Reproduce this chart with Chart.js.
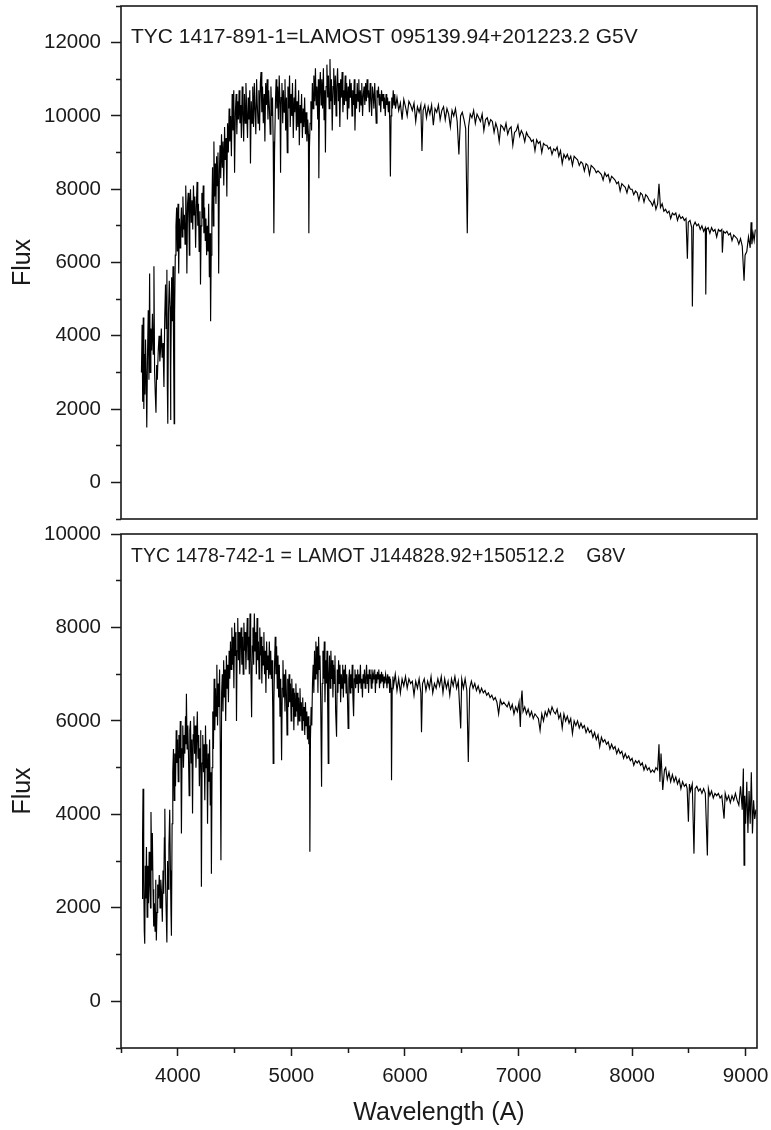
<!doctype html>
<html lang="en">
<head>
<meta charset="utf-8">
<title>LAMOST spectra</title>
<style>
  html,body{margin:0;padding:0;background:#fff;width:771px;height:1130px;overflow:hidden;}
  .panel{position:absolute;left:0;width:771px;}
  #p0{top:0;height:525px;}
  #p1{top:500px;height:630px;}
</style>
</head>
<body>
<div class="panel" id="p0"><canvas id="chart0" width="771" height="525"></canvas></div>
<div class="panel" id="p1"><canvas id="chart1" width="771" height="630"></canvas></div>

<script src="https://cdn.jsdelivr.net/npm/chart.js@4.4.1/dist/chart.umd.min.js"></script>
<script>
// spectrum 1 : TYC 1417-891-1 (G5V)
var waveTop = [
  3680,3686,3691,3696,3701,3706,3711,3716,3722,3727,
  3733,3740,3746,3752,3757,3763,3770,3777,3784,3790,
  3796,3802,3808,3814,3820,3828,3835,3842,3848,3855,
  3862,3870,3878,3885,3892,3898,3904,3908,3912,3918,
  3925,3932,3936,3940,3946,3952,3958,3964,3968,3972,
  3978,3984,3990,3996,4002,4008,4014,4020,4026,4032,
  4038,4045,4052,4058,4064,4070,4076,4080,4086,4092,
  4098,4102,4106,4112,4118,4125,4132,4138,4144,4150,
  4157,4163,4170,4176,4182,4188,4195,4200,4206,4212,
  4218,4224,4230,4236,4242,4248,4254,4260,4266,4272,
  4278,4284,4289,4294,4300,4306,4312,4318,4324,4330,
  4336,4342,4348,4354,4360,4366,4372,4378,4385,4392,
  4398,4405,4412,4418,4425,4432,4438,4445,4452,4458,
  4465,4472,4479,4486,4493,4500,4507,4514,4520,4527,
  4534,4540,4547,4554,4560,4567,4574,4580,4587,4594,
  4600,4607,4614,4620,4627,4634,4640,4647,4654,4660,
  4667,4674,4680,4687,4694,4700,4707,4714,4720,4727,
  4733,4740,4746,4753,4760,4767,4774,4780,4787,4794,
  4800,4807,4814,4820,4827,4834,4840,4846,4852,4860,
  4866,4872,4879,4886,4893,4900,4905,4910,4917,4924,
  4930,4937,4944,4950,4957,4964,4970,4977,4984,4990,
  4997,5004,5010,5017,5024,5030,5037,5044,5050,5057,
  5064,5070,5077,5084,5090,5097,5104,5110,5117,5124,
  5130,5137,5144,5150,5154,5159,5165,5172,5178,5185,
  5192,5198,5205,5212,5218,5225,5232,5238,5242,5248,
  5255,5262,5268,5275,5282,5288,5295,5300,5306,5313,
  5320,5326,5333,5340,5346,5353,5360,5367,5373,5380,
  5387,5394,5400,5407,5414,5420,5427,5434,5440,5447,
  5454,5460,5467,5474,5480,5487,5494,5500,5507,5514,
  5520,5527,5534,5540,5547,5554,5560,5567,5574,5580,
  5587,5594,5600,5607,5614,5620,5627,5634,5640,5647,
  5654,5660,5667,5674,5680,5687,5694,5700,5707,5714,
  5720,5727,5734,5740,5747,5754,5760,5767,5774,5780,
  5787,5794,5800,5807,5814,5820,5827,5834,5840,5847,
  5854,5860,5866,5872,5878,5884,5890,5897,5904,5910,
  5917,5930,5945,5960,5975,5990,6005,6020,6035,6050,
  6065,6080,6095,6110,6125,6140,6150,6160,6175,6190,
  6205,6220,6235,6250,6265,6280,6295,6310,6325,6340,
  6355,6370,6385,6400,6415,6430,6445,6460,6475,6490,
  6505,6520,6535,6549,6560,6575,6590,6605,6620,6635,
  6650,6665,6680,6695,6710,6725,6740,6755,6770,6785,
  6800,6815,6830,6845,6860,6875,6890,6905,6920,6935,
  6950,6965,6980,6995,7010,7025,7040,7055,7070,7085,
  7100,7115,7130,7145,7160,7175,7190,7205,7220,7235,
  7250,7265,7280,7295,7310,7325,7340,7355,7370,7385,
  7400,7415,7430,7445,7460,7475,7490,7505,7520,7535,
  7550,7565,7580,7595,7610,7625,7640,7655,7670,7685,
  7700,7715,7730,7745,7760,7775,7790,7805,7820,7835,
  7850,7865,7880,7895,7910,7925,7940,7955,7970,7985,
  8000,8015,8030,8045,8060,8075,8090,8105,8120,8135,
  8150,8165,8180,8195,8210,8225,8237,8250,8265,8280,
  8295,8310,8325,8340,8355,8370,8385,8400,8415,8430,
  8445,8460,8475,8487,8495,8510,8525,8531,8540,8555,
  8570,8585,8600,8615,8630,8645,8649,8655,8670,8685,
  8700,8715,8730,8745,8760,8775,8790,8795,8805,8820,
  8835,8850,8865,8880,8895,8910,8925,8940,8955,8970,
  8986,8995,9010,9025,9040,9048,9055,9065,9075,9085
];
var fluxTop = [
  3000,4300,2200,4500,2000,3500,2400,3900,2800,1500,
  3400,4700,2800,5700,3000,4200,3600,4600,3500,5900,
  3000,2400,1900,3200,2800,3600,4000,3300,3600,4200,
  3400,3800,2600,4500,5400,4200,5800,2600,1600,4600,
  5500,4800,1700,3000,5600,4400,5900,3200,1600,4600,
  6200,7000,7500,6300,7600,5700,7200,6400,7000,7500,
  6700,7800,6900,7300,6500,8100,7200,5700,7600,7900,
  7100,6200,7600,8000,7100,7700,6900,8100,7300,7800,
  6400,7500,8200,7000,7600,6300,7400,5400,7000,7900,
  7200,8100,6800,7500,6600,7200,6200,7000,6300,7600,
  5600,6800,4400,6200,7400,8600,7000,9300,7800,8700,
  7600,8900,8100,9000,5700,8400,9200,8300,9500,8600,
  9300,8100,9700,8800,9400,7800,9800,9000,10200,9300,
  10000,8900,10600,9600,10700,8450,10100,10600,9500,10400,
  9900,10700,9800,10300,9400,10800,10000,9300,10600,9800,
  10900,10100,9400,10500,9900,10700,8700,10400,9800,10800,
  9700,10900,10200,9500,11000,10300,9800,10700,9600,10900,
  11200,10100,10800,9800,10600,9300,10900,10300,11000,9900,
  10700,10200,9500,10800,10000,10500,9300,6800,9000,10400,
  11000,10200,10800,9900,11100,10300,8450,10500,10900,9800,
  10700,10100,11000,9600,10500,9000,10800,10200,11100,9700,
  10600,10000,10900,9400,10500,10100,11000,9600,10400,9700,
  10700,9200,10300,9800,10600,9400,10200,9700,10500,9500,
  10100,9300,9900,9500,6800,9100,9800,10400,9600,10900,
  10200,11100,10400,11300,10300,10800,9900,11000,8300,10500,
  11200,10300,11000,10200,11300,9900,10700,9000,10800,11400,
  10500,11100,10200,11550,10400,11000,9600,10800,11300,10300,
  11100,10000,10800,11300,10400,10900,9700,11000,10500,11200,
  10100,10700,10300,11100,10400,10900,9900,10800,10200,11000,
  10500,10900,10000,10700,10300,11000,9600,10600,10200,10900,
  10400,11000,10100,10700,10300,10900,10000,10600,10800,10300,
  10900,10400,11000,10500,10700,10100,10900,10500,10000,10800,
  10600,10200,10900,10400,9800,10700,10500,10800,10300,10600,
  10100,10700,10400,10600,10200,10500,10000,10600,10300,10500,
  10100,10400,9900,8350,10000,10500,10200,10700,10300,10600,
  10200,10500,10150,10350,9900,10450,10250,10000,10400,10300,
  10150,10350,9850,10250,10100,10300,9040,10150,10300,9950,
  10250,10050,10300,9750,10200,10100,10300,9900,10150,10250,
  9900,10200,10050,9700,10150,10000,10200,9850,8950,10000,
  10100,9900,9650,6800,9700,10050,9950,10150,9800,10050,
  9950,9850,10050,9600,9900,9950,9750,9900,9850,9550,
  9800,9650,9300,9750,9700,9600,9800,9500,9650,9700,
  9200,9550,9600,9750,9450,9600,9500,9300,9550,9450,
  9400,9300,9350,9050,9350,9250,9300,9000,9250,9200,
  9200,9100,9150,8950,9100,9050,9150,8900,9050,8700,
  8950,8850,8950,8800,8900,8650,8900,8850,8800,8650,
  8750,8700,8500,8700,8650,8400,8650,8600,8550,8450,
  8500,8450,8400,8250,8450,8350,8400,8200,8350,8300,
  8250,8150,8200,7950,8150,8100,8050,7900,8100,8000,
  8000,7850,7950,7900,7700,7900,7850,7650,7850,7800,
  7700,7650,7550,7700,7450,7600,8150,7500,7600,7400,
  7450,7350,7400,7200,7350,7300,7350,7150,7300,7200,
  7250,7150,7200,6100,7100,7150,6950,4800,7000,7100,
  7000,7050,6900,7000,6850,6950,5130,6900,6950,6800,
  6950,6850,6900,6700,6900,6850,6900,6270,6850,6800,
  6850,6750,6800,6600,6750,6700,6650,6500,6650,6450,
  5500,6200,6300,6700,6400,7100,6500,6800,6600,6900
];

// spectrum 2 : TYC 1478-742-1 (G8V)
var waveBottom = [
  3685,3690,3694,3700,3705,3709,3714,3719,3724,3730,
  3736,3742,3748,3754,3760,3764,3770,3776,3782,3788,
  3794,3800,3806,3811,3817,3823,3830,3837,3844,3850,
  3857,3864,3870,3876,3882,3886,3892,3898,3904,3910,
  3916,3922,3929,3935,3940,3944,3950,3956,3962,3968,
  3974,3980,3986,3992,3998,4004,4010,4016,4022,4028,
  4032,4038,4044,4050,4056,4062,4068,4072,4076,4082,
  4088,4094,4100,4106,4112,4118,4124,4130,4136,4142,
  4148,4154,4160,4166,4172,4178,4184,4190,4196,4202,
  4208,4214,4220,4226,4232,4238,4244,4250,4256,4262,
  4268,4274,4280,4286,4292,4296,4302,4308,4314,4320,
  4326,4332,4338,4344,4350,4356,4362,4368,4374,4380,
  4386,4392,4398,4404,4410,4416,4422,4428,4434,4440,
  4446,4452,4458,4464,4470,4476,4482,4488,4494,4500,
  4506,4512,4517,4522,4528,4534,4540,4546,4552,4558,
  4564,4570,4576,4582,4588,4594,4600,4606,4612,4618,
  4624,4630,4636,4642,4650,4656,4662,4668,4674,4680,
  4686,4692,4698,4704,4710,4716,4722,4728,4734,4740,
  4746,4752,4758,4764,4770,4776,4782,4788,4794,4800,
  4806,4812,4818,4824,4830,4836,4840,4846,4852,4858,
  4864,4870,4876,4882,4888,4894,4900,4906,4914,4920,
  4926,4932,4938,4944,4950,4956,4962,4968,4974,4980,
  4986,4992,4998,5004,5010,5016,5022,5028,5034,5040,
  5046,5052,5058,5064,5070,5076,5082,5088,5094,5100,
  5106,5112,5118,5124,5130,5136,5142,5148,5154,5160,
  5163,5168,5174,5180,5186,5192,5198,5204,5210,5216,
  5222,5228,5234,5240,5246,5252,5258,5266,5272,5278,
  5284,5290,5296,5302,5308,5314,5320,5325,5330,5336,
  5342,5348,5354,5360,5366,5372,5378,5384,5390,5398,
  5404,5410,5416,5422,5428,5434,5440,5446,5452,5458,
  5464,5470,5476,5482,5488,5494,5500,5506,5512,5518,
  5524,5530,5536,5542,5548,5554,5560,5566,5572,5578,
  5584,5590,5596,5602,5608,5614,5620,5626,5632,5638,
  5644,5650,5656,5662,5668,5674,5680,5686,5692,5698,
  5704,5710,5716,5722,5728,5734,5740,5746,5752,5758,
  5764,5770,5776,5782,5788,5794,5800,5806,5812,5818,
  5824,5830,5836,5842,5848,5854,5860,5866,5872,5878,
  5882,5888,5894,5900,5915,5930,5945,5960,5975,5990,
  6005,6020,6035,6050,6065,6080,6095,6110,6125,6140,
  6146,6155,6170,6185,6200,6215,6230,6245,6260,6275,
  6290,6305,6320,6335,6350,6365,6380,6395,6410,6425,
  6440,6455,6470,6491,6500,6515,6530,6545,6558,6570,
  6585,6600,6615,6630,6645,6660,6675,6690,6705,6720,
  6735,6750,6765,6780,6795,6810,6825,6840,6855,6870,
  6885,6900,6915,6930,6945,6960,6975,6990,7005,7016,
  7024,7031,7040,7055,7070,7085,7100,7115,7130,7145,
  7160,7175,7190,7205,7220,7235,7250,7265,7280,7295,
  7310,7325,7340,7355,7370,7385,7400,7415,7430,7445,
  7460,7475,7490,7505,7520,7535,7550,7565,7580,7595,
  7610,7625,7640,7655,7670,7685,7700,7715,7730,7745,
  7760,7775,7790,7805,7820,7835,7850,7865,7880,7895,
  7910,7925,7940,7955,7970,7985,8000,8015,8030,8045,
  8060,8075,8090,8105,8120,8135,8150,8165,8180,8195,
  8210,8225,8237,8245,8255,8270,8285,8296,8310,8325,
  8340,8355,8370,8385,8400,8415,8430,8445,8460,8475,
  8485,8496,8505,8515,8530,8545,8555,8570,8585,8600,
  8615,8630,8645,8663,8672,8685,8700,8715,8730,8745,
  8760,8775,8790,8810,8820,8835,8850,8865,8880,8895,
  8910,8925,8940,8955,8970,8980,8986,8992,9000,9010,
  9020,9030,9040,9050,9060,9070,9080,9090
];
var fluxBottom = [
  2200,3500,4550,2600,1500,1230,2900,2200,3300,1800,
  2900,2100,3200,2500,2000,4050,2800,3600,2400,1600,
  2100,1500,2600,1300,1900,2500,2200,2700,2000,2600,
  2300,1700,2800,2300,3500,4120,2600,1900,1260,3000,
  2400,3300,4100,2800,1900,1400,3800,4900,5400,4300,
  5300,4600,5800,5100,5600,4700,5700,5200,6000,4900,
  3590,5400,5900,5000,5700,5300,6100,5500,6580,5400,
  5900,5300,4400,5800,6000,5100,5600,4020,5700,6100,
  5300,5900,5000,5600,6200,5200,5700,4600,5400,5800,
  2450,5100,5700,4900,5500,4300,5900,5000,5500,3800,
  5300,4700,5600,4200,4900,2730,5000,6200,5400,6900,
  5800,6700,6100,7200,5900,6800,6300,7100,5500,3020,
  6600,7000,6200,7300,6500,7100,6000,7400,6700,7200,
  6400,7500,6900,7700,7100,8000,7200,7800,6700,8100,
  7400,7900,6000,7500,8200,7300,7900,7000,7700,8000,
  7200,7800,7000,8100,7500,7900,7100,7700,8200,7300,
  7800,7000,8300,7400,6080,7600,8000,7200,8300,7500,
  7900,7000,8200,7300,7700,6900,8000,7400,7800,6800,
  7600,7200,7900,7000,7500,6600,7700,7100,7400,6900,
  7700,7000,7500,6900,7300,6300,5090,6400,7200,7800,
  7000,7600,6700,7400,6500,7200,6100,6900,5160,6700,
  7300,6500,7000,6200,7100,6600,5700,6900,6300,7000,
  6400,6800,6000,6900,6300,6700,5800,6600,6100,6800,
  6200,6600,5900,6500,6000,6700,6100,6400,5800,6500,
  6000,6300,5700,6400,5900,6200,5600,6100,5500,5900,
  3200,5600,6300,5900,6800,7200,6600,7500,6900,7700,
  7000,7600,6600,7800,7100,7400,6500,4590,6800,7500,
  6900,7700,6400,7300,6800,7500,6300,5090,7000,7400,
  6700,7500,6900,7300,6500,7200,6800,7400,6200,5660,
  7100,6600,7300,6800,7200,6400,7000,6700,7200,6500,
  7100,6800,7200,6600,7000,6500,5840,6900,7100,6600,
  7000,6700,7200,6500,6100,6900,7100,6700,7000,6800,
  7100,6600,7000,6800,7200,6700,6900,6500,7000,6800,
  7100,6700,6900,7200,6800,7000,6600,7100,6900,7000,
  6700,7100,6800,7000,6900,7100,6600,7000,6800,7050,
  6900,7100,6700,7000,6800,7050,6850,7000,6700,6950,
  6800,7000,6900,6700,7000,6800,6950,6600,6900,6700,
  4730,6700,6950,6750,7000,6650,6900,6600,6900,6750,
  6950,6700,6900,6800,6850,6550,6850,6700,6900,6600,
  5760,6800,6900,6650,6850,6700,6950,6600,6800,6700,
  6900,6750,6950,6600,6900,6700,6850,6550,6900,6750,
  6950,6700,6850,5840,6900,6700,6900,6650,5120,6700,
  6850,6700,6800,6650,6750,6600,6700,6600,6650,6550,
  6600,6500,6550,6450,6500,6400,6150,6450,6350,6400,
  6350,6300,6400,6250,6350,6150,6300,6200,6400,5870,
  6450,6650,6200,6300,6150,6250,6100,6200,6050,6150,
  6100,6050,5800,6150,6000,6200,6100,6250,6150,6300,
  6200,6150,6250,6050,6150,5850,6150,6000,6100,5950,
  6050,5730,6000,5900,6000,5850,5950,5850,5900,5750,
  5850,5750,5800,5650,5750,5600,5700,5450,5650,5550,
  5600,5500,5550,5400,5500,5400,5450,5300,5400,5300,
  5350,5200,5300,5200,5250,5150,5200,5050,5150,5100,
  5150,5050,5100,4950,5050,4950,5000,4900,4950,4900,
  5000,4950,5500,4700,5300,4520,4950,5000,4750,4900,
  4700,4850,4700,4800,4650,4750,4550,4700,4600,4650,
  4550,3840,4650,4500,4650,3160,4550,4600,4500,4550,
  4450,4550,4450,3120,4550,4400,4500,4350,4450,4400,
  4450,4350,4400,3910,4450,4300,4400,4250,4400,4300,
  4450,4300,4200,4600,4100,4980,2910,4400,3800,4700,
  3600,4500,3800,4900,3590,4300,3900,4100
];

// axis ticks (every value gets a tick mark, labels on the even ones)
var xTicks = [3500,4000,4500,5000,5500,6000,6500,7000,7500,8000,8500,9000];
var yTicksTop = [-1000,0,1000,2000,3000,4000,5000,6000,7000,8000,9000,10000,11000,12000,13000];
var yTicksBottom = [-1000,0,1000,2000,3000,4000,5000,6000,7000,8000,9000,10000];

var labelTop = 'TYC 1417-891-1=LAMOST 095139.94+201223.2 G5V';
var labelBottom = 'TYC 1478-742-1 = LAMOT J144828.92+150512.2    G8V';

var FONT = "'Liberation Sans', Arial, sans-serif";
var INK = '#1a1a1a';
Chart.defaults.font.family = FONT;
Chart.defaults.color = INK;

// frame round the plot area + the star name in the corner
var panelText = {
  id: 'panelText',
  afterDraw: function(chart, args, opts) {
    var a = chart.chartArea, c = chart.ctx;
    c.save();
    c.strokeStyle = INK;
    c.lineWidth = 1.6;
    c.strokeRect(a.left, a.top, a.right - a.left, a.bottom - a.top);
    c.fillStyle = INK;
    c.font = opts.size + 'px ' + FONT;
    c.textBaseline = 'alphabetic';
    c.fillText(opts.text, a.left + 10, a.top + opts.dy);
    c.restore();
  }
};

function setTicks(list) {
  return function(s) { s.ticks = list.map(function(v) { return {value: v}; }); };
}

function drawPanel(id, wave, flux, yMin, yMax, yTicks, label, size, dy, isBottom) {
  var ctx = document.getElementById(id).getContext('2d');
  var pts = [];
  var n = Math.min(wave.length, flux.length);
  for (var i = 0; i < n; i++) pts.push({x: wave[i], y: flux[i]});

  return new Chart(ctx, {
    type: 'line',
    data: {
      datasets: [{
        data: pts,
        borderColor: '#000',
        borderWidth: 1.15,
        pointRadius: 0,
        tension: 0,
        fill: false
      }]
    },
    options: {
      responsive: false,
      animation: false,
      devicePixelRatio: 1,
      parsing: false,
      layout: {padding: {top: isBottom ? 34 : 6, right: 14, bottom: isBottom ? 0 : 6, left: 0}},
      plugins: {
        legend: {display: false},
        tooltip: {enabled: false},
        panelText: {text: label, size: size, dy: dy}
      },
      scales: {
        x: {
          type: 'linear',
          min: xTicks[0],
          max: 9100,
          display: isBottom,
          afterBuildTicks: setTicks(xTicks),
          afterFit: function(s) {
            s.height = isBottom ? 82 : 0;
            s.paddingLeft = 0; s.paddingRight = 0;
          },
          border: {display: false},
          grid: {
            drawOnChartArea: false,
            tickLength: 8,
            tickWidth: 1.5,
            tickColor: INK,
            tickBorderDash: function(c) { return c.tick && c.tick.value % 1000 !== 0 ? [5, 20] : []; }
          },
          ticks: {
            autoSkip: false,
            maxRotation: 0,
            padding: 8,
            font: {size: 20.5},
            callback: function(v) { return v % 1000 === 0 ? String(v) : ''; }
          },
          title: {display: true, text: 'Wavelength (A)', font: {size: 25}, padding: {top: 4, bottom: 2}}
        },
        y: {
          min: yMin,
          max: yMax,
          afterBuildTicks: setTicks(yTicks),
          afterFit: function(s) {
            s.width = 121;
            s.paddingTop = 0; s.paddingBottom = 0;
          },
          border: {display: false},
          grid: {
            drawOnChartArea: false,
            tickLength: 10,
            tickWidth: 1.5,
            tickColor: INK,
            tickBorderDash: function(c) { return c.tick && c.tick.value % 2000 !== 0 ? [0, 5, 5, 100] : []; }
          },
          ticks: {
            autoSkip: false,
            padding: 10,
            font: {size: 20.5},
            callback: function(v) { return v % 2000 === 0 ? String(v) : ''; }
          },
          title: {display: true, text: 'Flux', font: {size: 25}, padding: {top: 8, bottom: 0}}
        }
      }
    },
    plugins: [panelText]
  });
}

drawPanel('chart0', waveTop, fluxTop, -1000, 13000, yTicksTop, labelTop, 21, 37, false);
drawPanel('chart1', waveBottom, fluxBottom, -1000, 10000, yTicksBottom, labelBottom, 19.5, 28, true);
</script>
</body>
</html>
